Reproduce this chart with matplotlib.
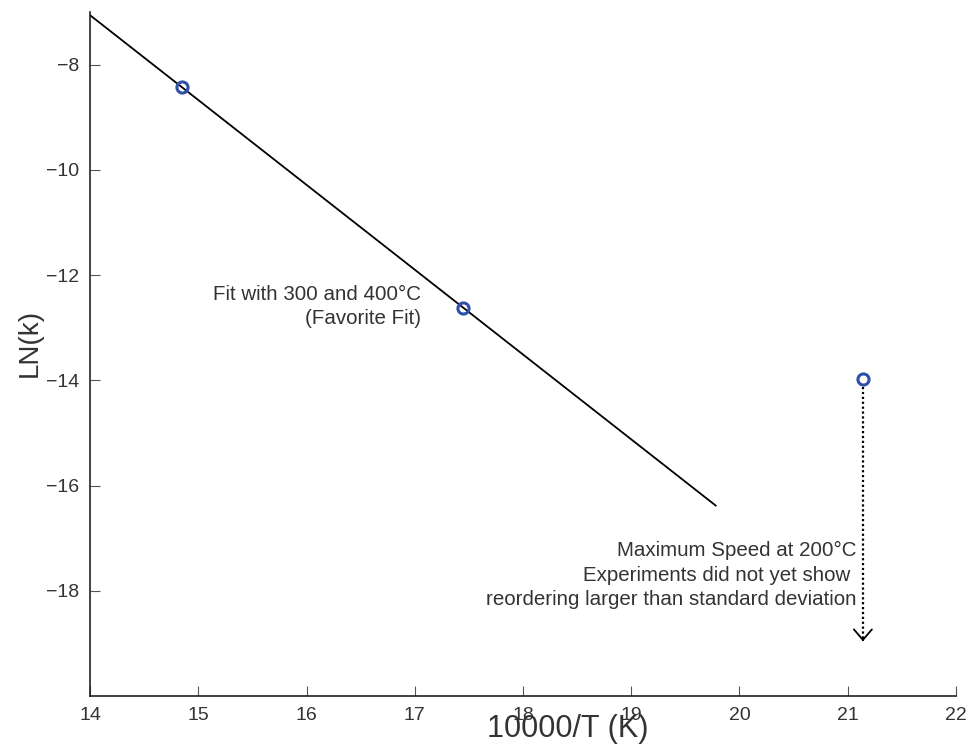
import matplotlib

matplotlib.use("Agg")
import matplotlib.pyplot as plt

plt.rcParams["font.family"] = ["Liberation Sans", "DejaVu Sans"]

# measured points (10000/T, ln k)
inv_t = [14.85, 17.45, 21.14]
ln_k = [-8.43, -12.62, -13.98]

# fit through the 300 and 400 C points
fit_x = [14.0, 19.78]
fit_y = [-7.06, -16.38]

# upper-bound arrow at 200 C
arrow_x = 21.14
arrow_top = -14.12
arrow_bot = -18.96

TXT = "#333333"

fig = plt.figure(figsize=(9.69, 7.49), dpi=100)
ax = fig.add_axes([90 / 969, 53 / 749, 866 / 969, 684 / 749])

ax.plot(fit_x, fit_y, color="black", lw=1.3, zorder=2)
ax.plot(inv_t, ln_k, "o", ms=8, mfc="none", mec="#2f4fa8", mew=2.2, zorder=3)

# dotted shaft, solid open head
ax.plot([arrow_x, arrow_x], [arrow_top, arrow_bot], ls=(0, (1, 1.2)), lw=1.6,
        color="black")
ax.annotate(
    "",
    xy=(arrow_x, arrow_bot),
    xytext=(arrow_x, arrow_bot + 0.05),
    arrowprops=dict(arrowstyle="->,head_length=0.42,head_width=0.36", lw=1.3,
                    color="black", mutation_scale=18, shrinkA=0, shrinkB=0),
)

ax.text(17.06, -12.6, "Fit with 300 and 400°C\n(Favorite Fit)",
        ha="right", va="center", fontsize=14.8, color=TXT, linespacing=1.35)
ax.text(21.08, -17.7,
        "Maximum Speed at 200°C\nExperiments did not yet show \n"
        "reordering larger than standard deviation",
        ha="right", va="center", fontsize=14.8, color=TXT, linespacing=1.35)

ax.set_xlim(14, 22)
ax.set_ylim(-20, -7)
ax.set_xticks(range(14, 23))
ax.set_yticks([-18, -16, -14, -12, -10, -8])
ax.set_yticklabels(["\u221218", "\u221216", "\u221214", "\u221212", "\u221210", "\u22128"])
ax.tick_params(direction="in", length=7, labelsize=14, colors="#555555",
               labelcolor=TXT, pad=8)
for s in ["top", "right"]:
    ax.spines[s].set_visible(False)
for s in ["left", "bottom"]:
    ax.spines[s].set_color("#222222")
    ax.spines[s].set_linewidth(1.2)

ax.set_xlabel("10000/T (K)", fontsize=22, color=TXT, va="top")
ax.xaxis.set_label_coords(0.552, -0.027)
ax.set_ylabel("LN(k)", fontsize=20, color=TXT)
ax.yaxis.set_label_coords(-0.054, 0.516)

fig.savefig("out.png", dpi=100)
